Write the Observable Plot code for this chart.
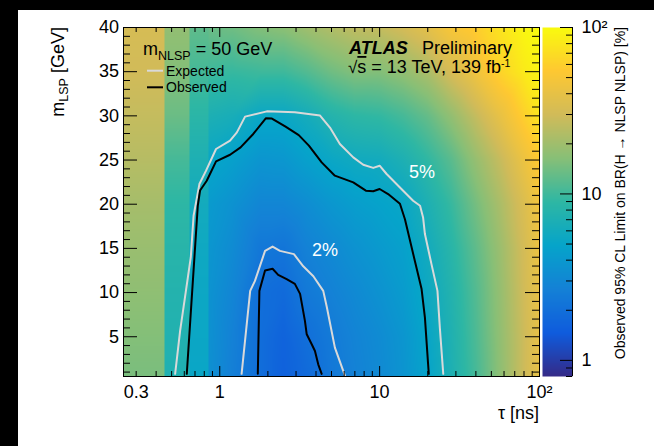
<!DOCTYPE html>
<html><head><meta charset="utf-8">
<script src="https://cdn.jsdelivr.net/npm/d3@7"></script>
<script src="https://cdn.jsdelivr.net/npm/@observablehq/plot@0.6"></script>
<style>
html,body{margin:0;padding:0;background:#000;}
#page{position:relative;width:654px;height:446px;overflow:hidden;}
#paper{position:absolute;left:18px;top:10px;width:636px;height:436px;background:#fff;}
#page svg{position:absolute;left:0;top:0;}
</style></head><body><div id="page"><div id="paper"></div></div>
<script>
const FONT = '"Liberation Sans", Arial, Helvetica, sans-serif';

// ---- heat map: observed 95% CL limit on BR [%] ----
const mNodes = [0.5, 5, 10, 15, 20, 25, 30, 35, 40];
// three coarse tau bands on the left (tau edges)
const bandTauEdges = [0.25, 0.45, 0.645, 0.845];
const bandLimits = [
  [15, 16, 17.5, 19, 21, 24, 27, 30, 32],
  [7.2, 7.4, 7.7, 8.2, 8.8, 10.5, 13.5, 16, 18],
  [5.2, 5.3, 5.4, 5.6, 6, 7, 8.5, 10.5, 12.5]
];
// smooth region
const tauNodes = [0.845, 1.2, 1.8, 2.5, 3.5, 5, 7, 10, 14, 20, 28, 40, 56, 80, 100];
const limitGrid = [
  [3.5, 3.6, 3.7, 3.9, 4.2, 5.2, 7, 10, 13.5],
  [2.6, 2.7, 2.9, 3.2, 3.6, 4.6, 6.5, 9.5, 14],
  [1.95, 1.95, 1.98, 2.3, 2.9, 3.8, 5.3, 10, 16],
  [1.6, 1.65, 1.85, 2.2, 2.9, 3.9, 5.3, 10, 17],
  [1.85, 2.0, 2.35, 2.7, 3.3, 4.6, 6.2, 11.5, 20],
  [2.3, 2.4, 2.7, 3.1, 3.9, 5.3, 7.8, 14, 23],
  [2.7, 2.8, 3.1, 3.6, 4.4, 5.8, 8.8, 16, 26],
  [3.1, 3.2, 3.6, 4.1, 4.8, 6.0, 9.2, 16, 27],
  [3.7, 3.8, 4.2, 4.6, 5.2, 7, 10.5, 18, 31],
  [4.9, 5.1, 5.5, 6, 7, 9, 13, 22, 38],
  [7, 7.2, 7.6, 8.3, 9.5, 12, 18, 32, 50],
  [10.5, 11, 11.5, 12.5, 14.5, 18.5, 27, 45, 58],
  [17, 17.5, 18, 19, 21.5, 27, 40, 62, 75],
  [29, 29, 30, 31, 34, 43, 60, 82, 95],
  [40, 40, 41, 43, 47, 57, 76, 92, 100]
];

// ---- contours (tau [ns], m_LSP [GeV]) ----
const exp5Tau = [0.526, 0.565, 0.659, 0.686, 0.746, 0.821, 0.948, 1.16, 1.28, 1.44, 1.97, 2.95, 4.24, 4.89, 5.64, 6.84, 7.9, 9.12, 10.0, 11.06, 13.4, 16.2, 17.9, 18.7, 19.2, 21.1, 23.0, 23.8, 25.0];
const exp5M   = [0.8, 5.66, 14.0, 18.7, 22.28, 23.8, 26.25, 27.2, 28.13, 29.91, 30.51, 30.42, 30.03, 28.67, 26.82, 25.3, 24.47, 24.11, 24.36, 23.42, 21.9, 20.39, 19.83, 18.5, 16.62, 13.22, 10.19, 6.03, 0.8];
const obs5Tau = [0.622, 0.729, 0.753, 0.829, 0.948, 1.16, 1.35, 1.62, 1.94, 2.12, 2.58, 3.12, 3.61, 4.34, 5.25, 6.84, 8.2, 9.12, 10.0, 11.3, 13.4, 14.4, 15.5, 16.6, 18.3, 19.2, 20.1, 20.3];
const obs5M   = [0.8, 19.85, 21.55, 22.66, 24.85, 25.6, 26.43, 27.95, 29.72, 29.69, 28.78, 27.82, 26.63, 24.73, 23.23, 22.47, 21.53, 21.47, 21.72, 21.15, 20.05, 18.3, 15.86, 13.6, 10.4, 7.17, 1.9, 0.8];
const exp2Tau = [1.37, 1.55, 1.66, 1.92, 2.14, 2.38, 2.91, 3.33, 3.85, 4.44, 4.68, 5.25, 5.92, 6.07];
const exp2M   = [0.8, 10.19, 11.32, 14.72, 15.21, 14.72, 14.35, 12.97, 11.84, 10.19, 8.3, 3.77, 1.13, 0.6];
const obs2Tau = [1.73, 1.77, 1.92, 2.14, 2.32, 2.62, 2.95, 3.18, 3.41, 3.5, 3.76, 3.94, 4.13, 4.34];
const obs2M   = [0.8, 10.19, 12.5, 12.69, 12.0, 11.52, 10.98, 9.85, 6.79, 5.28, 4.15, 3.39, 1.88, 0.8];

const contourLabels = ["5%", "2%"];
const contourLabelTau = [18.4, 4.55];
const contourLabelM = [23.6, 14.76];

// ---- ticks ----
const xTickLabels = [0.3, 1, 10, 100];
const xMajorTicks = [1, 10, 100];
const xMinorTicks = [0.3, 0.4, 0.5, 0.6, 0.7, 0.8, 0.9, 2, 3, 4, 5, 6, 7, 8, 9, 20, 30, 40, 50, 60, 70, 80, 90];
const yTickLabels = [5, 10, 15, 20, 25, 30, 35, 40];
const yMinorTicks = [1,2,3,4,6,7,8,9,11,12,13,14,16,17,18,19,21,22,23,24,26,27,28,29,31,32,33,34,36,37,38,39];
const cbarDomain = [0.8, 100];
const cbarTickLabels = [1, 10, 100];
const cbarMinorTicks = [0.8, 0.9, 2, 3, 4, 5, 6, 7, 8, 9, 20, 30, 40, 50, 60, 70, 80, 90];

// ---- ROOT kBird palette ----
const birdStops = ["#352a87", "#0f5cdd", "#1481d6", "#06a4ca", "#2eb7a4", "#87bf77", "#d1bb59", "#fec832", "#f9fb0e"];
const bird = d3.piecewise(d3.interpolateRgb, birdStops);
const colorOpts = {type: "linear", domain: [Math.log10(cbarDomain[0]), Math.log10(cbarDomain[1])], interpolate: bird};

// ---- build tables ----
const heatPoints = [];
bandLimits.forEach((col, i) => {
  const lo = bandTauEdges[i], hi = bandTauEdges[i + 1] * 0.9995;
  col.forEach((v, j) => {
    heatPoints.push({tau: lo, m: mNodes[j], v});
    heatPoints.push({tau: hi, m: mNodes[j], v});
  });
});
tauNodes.forEach((t, i) => limitGrid[i].forEach((v, j) => heatPoints.push({tau: t, m: mNodes[j], v})));

const zip = (T, M) => T.map((t, i) => ({tau: t, m: M[i]}));
const exp5 = zip(exp5Tau, exp5M), obs5 = zip(obs5Tau, obs5M);
const exp2 = zip(exp2Tau, exp2M), obs2 = zip(obs2Tau, obs2M);
const labels = contourLabels.map((l, i) => ({label: l, tau: contourLabelTau[i], m: contourLabelM[i]}));

const W = 654, H = 446;
const mL = 123, mR = 115, mT = 27, mB = 70;
const innerW = W - mL - mR, innerH = H - mT - mB;
const fmtPow = d => d === 100 ? "10\u00b2" : String(d);
const EXP_COLOR = "#d9d9d9";
const baseStyle = {background: "transparent", fontFamily: FONT, fontSize: "18px", color: "black", overflow: "visible"};

const main = Plot.plot({
  width: W, height: H,
  marginLeft: mL, marginRight: mR, marginTop: mT, marginBottom: mB,
  style: baseStyle,
  x: {type: "log", domain: [0.25, 100]},
  y: {type: "linear", domain: [0.5, 40]},
  color: colorOpts,
  marks: [
    Plot.raster(heatPoints, {x: "tau", y: "m", fill: d => Math.log10(d.v), interpolate: "barycentric", x1: 0.25, x2: 100, y1: 0.5, y2: 40}),
    Plot.line(exp5, {x: "tau", y: "m", stroke: EXP_COLOR, strokeWidth: 2, clip: true}),
    Plot.line(obs5, {x: "tau", y: "m", stroke: "black", strokeWidth: 2, clip: true}),
    Plot.line(exp2, {x: "tau", y: "m", stroke: EXP_COLOR, strokeWidth: 2, clip: true}),
    Plot.line(obs2, {x: "tau", y: "m", stroke: "black", strokeWidth: 2, clip: true}),
    Plot.text(labels, {x: "tau", y: "m", text: "label", fill: "white", fontSize: 18}),
    Plot.frame({stroke: "black", strokeWidth: 1}),
    // inward ticks
    Plot.tickX(xMajorTicks, {x: d => d, insetTop: innerH - 10, stroke: "black"}),
    Plot.tickX(xMinorTicks, {x: d => d, insetTop: innerH - 5, stroke: "black"}),
    Plot.tickX(xMajorTicks, {x: d => d, insetBottom: innerH - 10, stroke: "black"}),
    Plot.tickX(xMinorTicks, {x: d => d, insetBottom: innerH - 5, stroke: "black"}),
    Plot.tickY(yTickLabels, {y: d => d, insetRight: innerW - 14, stroke: "black"}),
    Plot.tickY(yMinorTicks, {y: d => d, insetRight: innerW - 7, stroke: "black"}),
    Plot.tickY(yTickLabels, {y: d => d, insetLeft: innerW - 14, stroke: "black"}),
    Plot.tickY(yMinorTicks, {y: d => d, insetLeft: innerW - 7, stroke: "black"}),
    Plot.axisX({ticks: xTickLabels, tickFormat: fmtPow, tickSize: 0, tickPadding: 9, label: null}),
    Plot.axisY({ticks: yTickLabels, tickSize: 0, tickPadding: 4.5, label: null})
  ]
});

const cbarPoints = [];
[0, 1].forEach(x => cbarDomain.forEach(v => cbarPoints.push({x, v})));
const cbW = 30, cbL = 542;
const cbar = Plot.plot({
  width: W, height: H,
  marginLeft: cbL, marginRight: W - cbL - cbW, marginTop: mT, marginBottom: mB,
  style: baseStyle,
  x: {domain: [0, 1], axis: null},
  y: {type: "log", domain: cbarDomain},
  color: colorOpts,
  marks: [
    Plot.raster(cbarPoints, {x: "x", y: "v", fill: d => Math.log10(d.v), interpolate: "barycentric", x1: 0, x2: 1, y1: cbarDomain[0], y2: cbarDomain[1]}),
    Plot.ruleX([1], {x: d => d, stroke: "black"}),
    Plot.tickY(cbarTickLabels, {y: d => d, insetLeft: cbW - 12, stroke: "black"}),
    Plot.tickY(cbarMinorTicks, {y: d => d, insetLeft: cbW - 6, stroke: "black"}),
    Plot.axisY({anchor: "right", ticks: cbarTickLabels, tickFormat: fmtPow, tickSize: 0, tickPadding: 9, label: null})
  ]
});

const page = document.getElementById("page");
page.appendChild(main);
page.appendChild(cbar);

// ---- annotations ----
const svg = d3.select(main);
const g = svg.append("g").attr("font-family", FONT).attr("fill", "black").attr("text-anchor", "start");

// m_NLSP = 50 GeV
const t1 = g.append("text").attr("x", 143).attr("y", 54.5).attr("font-size", 18);
t1.append("tspan").text("m");
t1.append("tspan").attr("font-size", 12.5).attr("dy", 5).text("NLSP");
t1.append("tspan").attr("dy", -5).text(" = 50 GeV");

// legend
g.append("line").attr("x1", 147).attr("x2", 163).attr("y1", 70.7).attr("y2", 70.7).attr("stroke", EXP_COLOR).attr("stroke-width", 2);
g.append("line").attr("x1", 147).attr("x2", 163).attr("y1", 87.3).attr("y2", 87.3).attr("stroke", "black").attr("stroke-width", 2);
g.append("text").attr("x", 166).attr("y", 75.7).attr("font-size", 14).text("Expected");
g.append("text").attr("x", 166).attr("y", 92.3).attr("font-size", 14).text("Observed");

// ATLAS Preliminary
g.append("text").attr("x", 349).attr("y", 53.5).attr("font-size", 18).attr("font-weight", "bold").attr("font-style", "italic").text("ATLAS");
g.append("text").attr("x", 422).attr("y", 53.5).attr("font-size", 18).text("Preliminary");
const t2 = g.append("text").attr("x", 348).attr("y", 73).attr("font-size", 18);
t2.append("tspan").attr("font-size", 17).text("\u221A");
t2.append("tspan").attr("text-decoration", "overline").text("s");
t2.append("tspan").text(" = 13 TeV, 139 fb");
t2.append("tspan").attr("font-size", 10.5).attr("dy", -6).text("-1");

// axis titles
const ty = g.append("text").attr("transform", "translate(63.5,27) rotate(-90)").attr("text-anchor", "end").attr("font-size", 18);
ty.append("tspan").text("m");
ty.append("tspan").attr("font-size", 12.5).attr("dy", 4).text("LSP");
ty.append("tspan").attr("dy", -4).text(" [GeV]");

g.append("text").attr("x", 539).attr("y", 419).attr("text-anchor", "end").attr("font-size", 18).text("\u03C4 [ns]");

g.append("text").attr("transform", "translate(625,27) rotate(-90)").attr("text-anchor", "end").attr("font-size", 14)
  .text("Observed 95% CL Limit on BR(H \u2192 NLSP NLSP) [%]");
</script>
</body></html>
